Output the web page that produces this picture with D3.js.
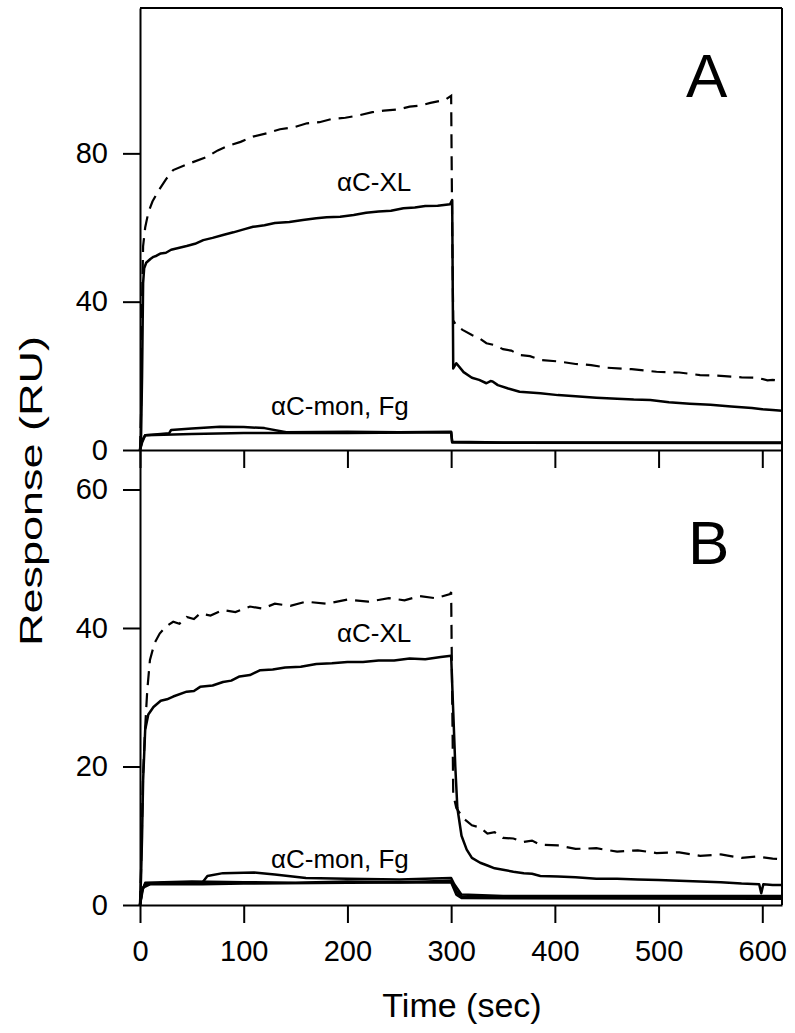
<!DOCTYPE html>
<html><head><meta charset="utf-8">
<script src="https://cdn.jsdelivr.net/npm/d3@7"></script>
<style>body{margin:0;background:#fff}svg{display:block}text{font-family:"Liberation Sans",Arial,sans-serif;fill:#000}</style>
</head><body><svg id="c" width="795" height="1033"></svg>
<script>
// ---- data (time sec, response RU) ----
const xTicks = [0,100,200,300,400,500,600];
const yTicksA = [0,40,80];
const yTicksB = [0,20,40,60];

const A_xlDashed = [[0,0],[1,10],[2,40],[3,55],[5,60],[8,64],[12,67],[18,70],[25,73],[32,75.5],[45,77],[64,79],[75,80.8],[85,82],[97,83.1],[109,84.5],[122,85.4],[135,86.5],[148,87.0],[161,88.1],[173,88.4],[185,89.3],[198,89.6],[212,90.3],[224,91.1],[235,91.5],[248,91.8],[260,92.6],[270,92.9],[280,93.6],[294,94.4],[300,95.5],[301,60],[302,35],[305,33.5],[311,32.4],[320,31],[327,30.2],[334,28.8],[342,28.3],[350,27.2],[358,26.8],[366,25.6],[376,25.3],[386,24.3],[403,23.9],[420,23.2],[435,22.9],[450,22.2],[474,21.8],[498,21.1],[520,20.9],[540,20.2],[560,20.0],[580,19.6],[595,19.5],[605,18.8],[610,18.9],[619,18.6]];
const A_xlSolid = [[0,0],[1,3],[2,20],[3,45],[4,49],[6,50.5],[10,51.5],[13,52.1],[16,52.4],[20,53],[25,53.2],[30,54],[45,55],[53,55.6],[61,56.6],[70,57.2],[80,58],[90,58.7],[100,59.5],[109,60.2],[120,60.6],[130,61.2],[144,61.5],[157,62],[170,62.5],[180,62.8],[193,62.9],[206,63.4],[218,64.0],[230,64.3],[242,64.5],[254,65.2],[265,65.4],[275,65.8],[287,65.9],[299,66.3],[301,67.4],[302,22],[305,23.4],[312,21],[320,19.5],[327,18.9],[334,18],[338,18.6],[340,18.5],[345,17.5],[355,16.6],[366,15.7],[376,15.5],[386,15.3],[403,14.8],[420,14.5],[440,14.1],[460,13.8],[476,13.6],[492,13.5],[510,12.9],[530,12.5],[550,12.2],[570,11.7],[590,11.3],[600,11.0],[610,10.8],[619,10.6]];
const A_mon1 = [[0,0],[2,2],[5,4],[20,4.3],[28,4.5],[30,5.4],[50,5.8],[77,6.3],[100,6.2],[120,5.9],[141,4.8],[200,4.9],[250,4.8],[300,4.9],[301,2.2],[350,2.0],[619,2.0]];
const A_mon2 = [[0,0],[2,2.5],[5,4],[50,4.3],[100,4.6],[141,4.6],[200,4.6],[300,4.8],[301,2.0],[619,1.9]];

const B_xlDashed = [[0,0],[1,5],[2,12],[3,19],[5,25.7],[7,31],[9.6,35.4],[14,37.8],[19,39.2],[25,40.2],[32,40.9],[38,40.6],[45,41.6],[52,41.3],[58,42.1],[68,41.8],[80,42.6],[92,42.3],[106,43.1],[118,42.8],[130,43.5],[145,43.2],[160,43.8],[180,43.5],[200,44.1],[220,43.8],[240,44.3],[255,44.0],[270,44.6],[285,44.3],[299,44.9],[300,45.2],[301,30],[302,16],[305,14],[312,12.5],[320,11.5],[328,11.2],[335,10.3],[342,10.5],[350,9.7],[360,9.6],[370,9.1],[378,9.3],[386,8.7],[403,8.6],[420,8.1],[440,8.2],[460,7.7],[480,7.9],[498,7.5],[520,7.6],[540,7.1],[560,7.3],[580,6.8],[595,7.0],[610,6.7],[619,6.6]];
const B_xlSolid = [[0,0],[1,4],[2,10],[3,18],[5,25.3],[8,27.5],[13,28.6],[20,29.5],[26,29.7],[32,30.1],[45,30.8],[52,30.9],[58,31.5],[70,31.7],[80,32.2],[88,32.4],[96,33.0],[106,33.2],[116,33.9],[128,34.0],[140,34.3],[155,34.4],[170,34.8],[185,34.9],[200,35.1],[215,35.1],[230,35.3],[245,35.3],[260,35.6],[275,35.5],[290,35.8],[300,36.0],[302,28],[304,20],[306,14],[310,10],[315,8],[320,6.8],[328,6.1],[335,5.7],[342,5.3],[350,5.1],[360,4.8],[370,4.6],[378,4.5],[386,4.2],[403,4.1],[420,4.0],[440,3.8],[460,3.8],[480,3.7],[500,3.6],[520,3.5],[540,3.4],[560,3.3],[580,3.1],[597,3.0],[599,1.7],[601,3.0],[610,2.9],[619,2.9]];
const B_mon1 = [[0,0],[2,2.2],[5,3],[30,3.3],[60,3.2],[65,4.2],[80,4.6],[110,4.7],[130,4.4],[160,3.9],[200,3.8],[250,3.7],[300,3.9],[303,3.0],[310,1.5],[350,1.3],[619,1.3]];
const B_mon2 = [[0,0],[2,2],[5,3.2],[50,3.4],[100,3.3],[150,3.2],[200,3.4],[250,3.3],[300,3.5],[305,2],[310,1.2],[619,1.1]];
const B_mon3 = [[0,0],[3,2.5],[10,3],[60,3.0],[100,3.1],[200,3.2],[300,3.3],[305,1.5],[310,1.0],[619,0.9]];

// ---- drawing ----
const svg = d3.select("#c");
const x = d3.scaleLinear().domain([0,619]).range([140,782]);
const yA = d3.scaleLinear().domain([0,119.2]).range([450,8]);
const yB = d3.scaleLinear().domain([0,65.7]).range([905,450]);

function drawLines(y, solids, dashed){
  const line = d3.line().x(d=>x(d[0])).y(d=>y(d[1]));
  solids.forEach(s=>svg.append("path").attr("d",line(s)).attr("fill","none").attr("stroke","#000").attr("stroke-width",2.5).attr("stroke-linejoin","round"));
  svg.append("path").attr("d",line(dashed)).attr("fill","none").attr("stroke","#000").attr("stroke-width",2.2).attr("stroke-dasharray","14,8");
}
drawLines(yA,[A_mon1,A_mon2,A_xlSolid],A_xlDashed);
drawLines(yB,[B_mon1,B_mon2,B_mon3,B_xlSolid],B_xlDashed);

function styleAxis(g){
  g.selectAll("path,line").attr("stroke","#000").attr("stroke-width",2);
  g.selectAll("text").attr("font-size",29).attr("font-family","Liberation Sans, Arial, sans-serif");
}
// left axes
svg.append("g").attr("transform","translate(140,0)")
  .call(d3.axisLeft(yA).tickValues(yTicksA).tickSize(17).tickPadding(15).tickSizeOuter(0)).call(styleAxis);
svg.append("g").attr("transform","translate(140,0)")
  .call(d3.axisLeft(yB).tickValues(yTicksB).tickSize(17).tickPadding(15).tickSizeOuter(0)).call(styleAxis);
// bottom axes
svg.append("g").attr("transform","translate(0,450)")
  .call(d3.axisBottom(x).tickValues(xTicks).tickSize(18).tickFormat("").tickSizeOuter(0)).call(styleAxis);
svg.append("g").attr("transform","translate(0,905)")
  .call(d3.axisBottom(x).tickValues(xTicks).tickSize(18).tickPadding(17).tickSizeOuter(0)).call(styleAxis);
// frame
svg.append("line").attr("x1",140).attr("x2",782).attr("y1",8).attr("y2",8).attr("stroke","#000").attr("stroke-width",2);
svg.append("line").attr("x1",782).attr("x2",782).attr("y1",8).attr("y2",905).attr("stroke","#000").attr("stroke-width",2);

// titles
svg.append("text").attr("x",462).attr("y",1017).attr("text-anchor","middle").attr("font-size",34).text("Time (sec)");
svg.append("text").attr("transform","translate(42,491) rotate(-90)").attr("text-anchor","middle")
  .attr("font-size",32).attr("textLength",310).attr("lengthAdjust","spacingAndGlyphs").text("Response (RU)");

// annotations
svg.append("text").attr("x",337).attr("y",191).attr("font-size",26).text("αC-XL");
svg.append("text").attr("x",271).attr("y",415).attr("font-size",26).text("αC-mon, Fg");
svg.append("text").attr("x",337).attr("y",642).attr("font-size",26).text("αC-XL");
svg.append("text").attr("x",271).attr("y",868).attr("font-size",26).text("αC-mon, Fg");
svg.append("text").attr("x",686).attr("y",97).attr("font-size",62).text("A");
svg.append("text").attr("x",688).attr("y",564).attr("font-size",62).text("B");
</script></body></html>
